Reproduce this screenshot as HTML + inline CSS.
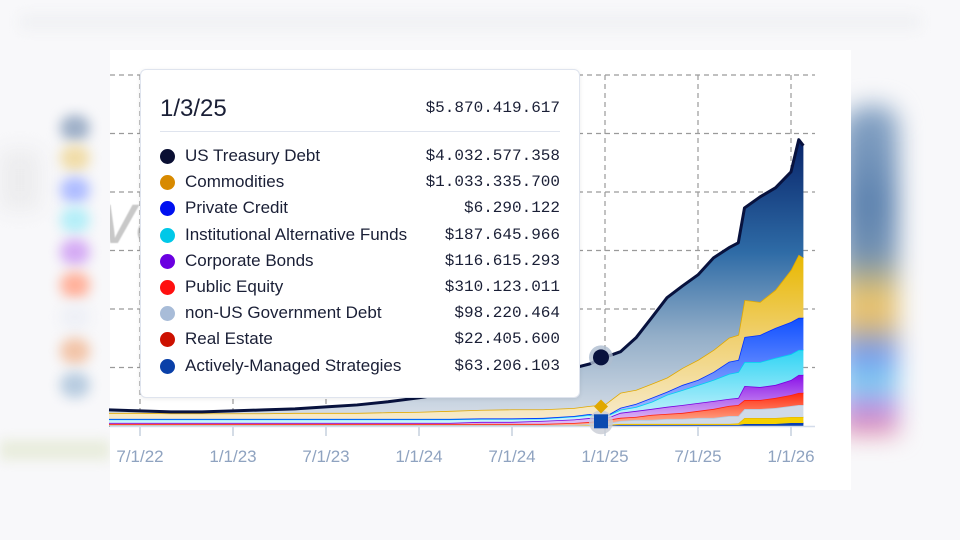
<!DOCTYPE html>
<html><head><meta charset="utf-8"><style>
html,body{margin:0;padding:0;width:960px;height:540px;overflow:hidden;background:#f8f8fa;font-family:"Liberation Sans",sans-serif}
.blur{position:absolute;filter:blur(6px)}
.sw{position:absolute;left:60px;width:30px;height:26px;border-radius:13px;filter:blur(6px)}
#card{position:absolute;left:110px;top:50px;width:741px;height:440px;background:#fff;overflow:hidden}
#tip{position:absolute;left:140px;top:69px;width:440px;height:329px;background:#fff;border:1px solid #dfe4ee;border-radius:6px;box-shadow:0 1px 4px rgba(0,0,0,.08);box-sizing:border-box}
.row{position:absolute;left:18px;right:19px;height:24px;font-size:17px;color:#1a1f36}
.dot{position:absolute;left:1px;top:4px;width:15px;height:15px;border-radius:50%}
.lab{position:absolute;left:26px;top:1px;white-space:nowrap}
.val{position:absolute;right:0;top:2px;font-family:"Liberation Mono",monospace;font-size:16px}
</style></head><body>
<div class="blur" style="left:20px;top:14px;width:900px;height:16px;background:#f0f1f4"></div>
<div class="blur" style="left:0;top:150px;width:40px;height:60px;background:#ececee;filter:blur(10px)"></div>
<div class="sw" style="top:115px;background:#9fb0c8"></div>
<div class="sw" style="top:145px;background:#f0dca8"></div>
<div class="sw" style="top:177px;background:#aebcff"></div>
<div class="sw" style="top:207px;background:#b4eef8"></div>
<div class="sw" style="top:239px;background:#d4aaf4"></div>
<div class="sw" style="top:272px;background:#ffb09a"></div>
<div class="sw" style="top:304px;background:#eef0f6"></div>
<div class="sw" style="top:338px;background:#f2c4a8"></div>
<div class="sw" style="top:372px;background:#b8cce0"></div>
<div class="blur" style="left:0;top:440px;width:110px;height:20px;background:#e8ecdc"></div>
<div class="blur" style="left:840px;top:105px;width:58px;height:330px;border-radius:30px 20px 0 0;filter:blur(12px);background:linear-gradient(#8aa6c6 0%,#5f84b0 30%,#7392b4 45%,#e6c470 58%,#e8c070 65%,#7898f0 75%,#80d4f0 85%,#c090e8 92%,#e890a0 100%)"></div>
<div id="card">
<div style="position:absolute;left:-10px;top:128px;font-size:72px;color:#c8c8c8;font-style:italic;filter:blur(.6px)">va</div>
</div>
<svg id="chart" width="960" height="540" style="position:absolute;left:0;top:0">
<defs>
<linearGradient id="gT" gradientUnits="userSpaceOnUse" x1="0" y1="140" x2="0" y2="420"><stop offset="0" stop-color="#08246a"/><stop offset=".4" stop-color="#2e6ba6"/><stop offset=".7" stop-color="#93aec8"/><stop offset="1" stop-color="#d8dfe8"/></linearGradient>
<linearGradient id="gG" gradientUnits="userSpaceOnUse" x1="0" y1="255" x2="0" y2="420"><stop offset="0" stop-color="#e8b800"/><stop offset=".5" stop-color="#f0d070"/><stop offset="1" stop-color="#f7ebcc"/></linearGradient>
<linearGradient id="gB" gradientUnits="userSpaceOnUse" x1="0" y1="318" x2="0" y2="420"><stop offset="0" stop-color="#1050ff"/><stop offset="1" stop-color="#b0c0ff"/></linearGradient>
<linearGradient id="gC" gradientUnits="userSpaceOnUse" x1="0" y1="350" x2="0" y2="420"><stop offset="0" stop-color="#30d4f4"/><stop offset="1" stop-color="#c8f2fb"/></linearGradient>
<linearGradient id="gP" gradientUnits="userSpaceOnUse" x1="0" y1="375" x2="0" y2="420"><stop offset="0" stop-color="#8a10e8"/><stop offset="1" stop-color="#dcb8f4"/></linearGradient>
<linearGradient id="gR" gradientUnits="userSpaceOnUse" x1="0" y1="393" x2="0" y2="424"><stop offset="0" stop-color="#ff2a10"/><stop offset="1" stop-color="#ffb090"/></linearGradient>
</defs>
<g id="grid"></g><g id="areas"></g><g id="axis"></g><g id="marks"></g>
</svg>
<div id="tip">
<div style="position:absolute;left:19px;top:25px;font-size:24px;color:#1a1f36">1/3/25</div>
<div style="position:absolute;right:19px;top:29px;font-family:'Liberation Mono',monospace;font-size:16px;color:#1a1f36">$5.870.419.617</div>
<div style="position:absolute;left:19px;right:19px;top:61px;height:1px;background:#dfe4ee"></div>
<div id="rows"></div>
</div>
<script>
const months=[-2,0,2,4,6,8,10,12,14,16,18,20,22,24,26,28,29,30,31,32,33,34,35,36,37,38,38.6,39,40,41,42,42.5,42.8];
const xTicks=[0,6,12,18,24,30,36,42];
const xTickLabels=["7/1/22","1/1/23","7/1/23","1/1/24","7/1/24","1/1/25","7/1/25","1/1/26"];
const yTicks=[0,5,10,15,20,25,30];
const actively=[.03,.03,.03,.03,.03,.03,.03,.03,.03,.03,.03,.03,.03,.03,.03,.03,.03,.06,.09,.09,.09,.09,.09,.09,.09,.09,.09,.17,.17,.17,.26,.26,.26];
const realEstate=[.03,.03,.03,.03,.03,.03,.03,.03,.03,.03,.03,.03,.03,.03,.03,.03,.03,.02,.09,.09,.09,.09,.09,.09,.09,.09,.13,.51,.51,.51,.51,.51,.51];
const nonUsGov=[.03,.03,.03,.03,.03,.03,.03,.03,.03,.03,.03,.03,.03,.03,.03,.03,.11,.10,.26,.34,.34,.43,.43,.51,.51,.68,.64,.77,.77,.86,.94,1.03,1.03];
const publicEquity=[.09,.09,.09,.09,.09,.09,.09,.09,.09,.09,.09,.09,.09,.09,.09,.17,.17,.31,.26,.26,.43,.43,.51,.60,.77,.86,.94,.77,.77,.86,.94,1.03,1.03];
const corporateBonds=[.09,.09,.09,.09,.09,.09,.09,.09,.09,.09,.09,.09,.17,.17,.26,.30,.34,.12,.43,.51,.51,.60,.68,.68,.68,.60,.60,1.20,1.11,1.11,1.28,1.54,1.54];
const instAlt=[.30,.30,.30,.30,.30,.30,.30,.30,.30,.30,.30,.30,.26,.26,.21,.26,.26,.19,.26,.34,.60,1.03,1.28,1.54,1.80,2.14,2.22,2.05,2.14,2.31,2.22,2.14,2.14];
const privateCredit=[.04,.04,.04,.04,.04,.04,.04,.04,.04,.04,.04,.04,.04,.04,.04,.04,.09,.01,.17,.26,.34,.26,.43,.43,.68,1.03,1.03,2.14,2.31,2.57,2.74,2.74,2.74];
const commodities=[.51,.51,.47,.47,.47,.47,.51,.51,.51,.56,.60,.68,.73,.77,.73,.68,.68,1.03,1.28,1.20,1.20,1.20,1.45,1.71,1.88,2.05,2.14,3.16,2.82,3.25,4.45,5.39,5.13];
const treasury=[.26,.17,.13,.13,.21,.30,.34,.51,.68,.90,1.20,1.54,2.01,2.48,2.95,3.42,3.59,4.03,3.51,4.45,5.64,6.84,7.01,7.27,7.87,7.70,7.87,7.87,8.98,8.72,8.38,9.83,9.58];
const series=[
 {n:"actively-managed",d:actively,f:"#0a3fb0",s:"#0a3fb0"},
 {n:"real-estate",d:realEstate,f:"#f5d000",s:"#e8b800"},
 {n:"non-us-gov-debt",d:nonUsGov,f:"#d0dae8",s:"#b8c8dc"},
 {n:"public-equity",d:publicEquity,f:"url(#gR)",s:"#ff2010"},
 {n:"corporate-bonds",d:corporateBonds,f:"url(#gP)",s:"#7a00e0"},
 {n:"institutional-alt-funds",d:instAlt,f:"url(#gC)",s:"#00d0f0"},
 {n:"private-credit",d:privateCredit,f:"url(#gB)",s:"#0030ff"},
 {n:"commodities",d:commodities,f:"url(#gG)",s:"#e0a800"},
 {n:"us-treasury-debt",d:treasury,f:"url(#gT)",s:"#08123e"}];
const X=m=>140+15.5*m, Y=v=>426-v*11.7;
const NS="http://www.w3.org/2000/svg";
function mk(t,a,p){const e=document.createElementNS(NS,t);for(const k in a)e.setAttribute(k,a[k]);p.appendChild(e);return e;}
const grid=document.getElementById('grid'),areas=document.getElementById('areas'),axis=document.getElementById('axis'),marks=document.getElementById('marks');
yTicks.forEach(v=>{if(v===0)return;const l=mk('line',{x1:110,x2:815,y1:Y(v),y2:Y(v),stroke:'#9a9a9a','stroke-dasharray':'5,4','stroke-width':1.2},grid);

});
xTicks.forEach((m,i)=>{const l=mk('line',{x1:X(m),x2:X(m),y1:75,y2:426,stroke:'#9a9a9a','stroke-dasharray':'5,4','stroke-width':1.2},grid);


const t=mk('line',{x1:X(m),x2:X(m),y1:426,y2:436,stroke:'#b8c4d4','stroke-width':1.2},axis);


const tx=mk('text',{x:X(m),y:462,'text-anchor':'middle','font-size':17,fill:'#8fa3c0','font-family':'Liberation Sans, sans-serif'},axis);tx.textContent=xTickLabels[i];

});
let base=months.map(()=>0);
series.forEach(s=>{const top=base.map((b,i)=>b+s.d[i]);
let pts=months.map((m,i)=>X(m)+','+Y(top[i])).join(' ');
let back=months.map((m,i)=>X(m)+','+Y(base[i])).reverse().join(' ');
const p=mk('polygon',{points:pts+' '+back,fill:s.f},areas);


const l=mk('polyline',{points:pts,fill:'none',stroke:s.s,'stroke-width':s.n==='us-treasury-debt'?3:1.6,'stroke-linejoin':'round'},areas);


base=top;});
const bl=mk('line',{x1:110,x2:815,y1:426.5,y2:426.5,stroke:'#d4dcea','stroke-width':1.5},axis);


const hi=months.indexOf(30);let cum=0;const cums=series.map(s=>cum+=s.d[hi]);
const mx=601;
const h1=mk('circle',{cx:mx,cy:Y(cums[8]),r:12,fill:'#aebdd0',opacity:.8},marks);


const c1=mk('circle',{cx:mx,cy:Y(cums[8]),r:8,fill:'#08123e'},marks);


const h2=mk('circle',{cx:mx,cy:Y(cums[0])-3,r:12,fill:'#c8ccd4',opacity:.8},marks);


const dm=mk('polygon',{points:`${mx},${Y(cums[7])-5} ${mx+7},${Y(cums[7])+2} ${mx},${Y(cums[7])+9} ${mx-7},${Y(cums[7])+2}`,fill:'#e0a800'},marks);


const sq=mk('rect',{x:mx-7,y:Y(cums[0])-11,width:14,height:14,fill:'#0a4ab0'},marks);


const rowNames=["US Treasury Debt","Commodities","Private Credit","Institutional Alternative Funds","Corporate Bonds","Public Equity","non-US Government Debt","Real Estate","Actively-Managed Strategies"];
const rowVals=["$4.032.577.358","$1.033.335.700","$6.290.122","$187.645.966","$116.615.293","$310.123.011","$98.220.464","$22.405.600","$63.206.103"];
const rowColors=["#0a0f33","#d88a00","#0010f0","#00c8e8","#6a00e0","#ff1010","#a8bcd8","#cc1100","#0a40a8"];
const rows=document.getElementById('rows');
rowNames.forEach((n,i)=>{const r=document.createElement('div');r.className='row';r.style.top=(75+i*26.2)+'px';


r.innerHTML=`<div class="dot" style="background:${rowColors[i]}"></div><div class="lab">${n}</div><div class="val">${rowVals[i]}</div>`;
rows.appendChild(r);});
</script>
</body></html>
